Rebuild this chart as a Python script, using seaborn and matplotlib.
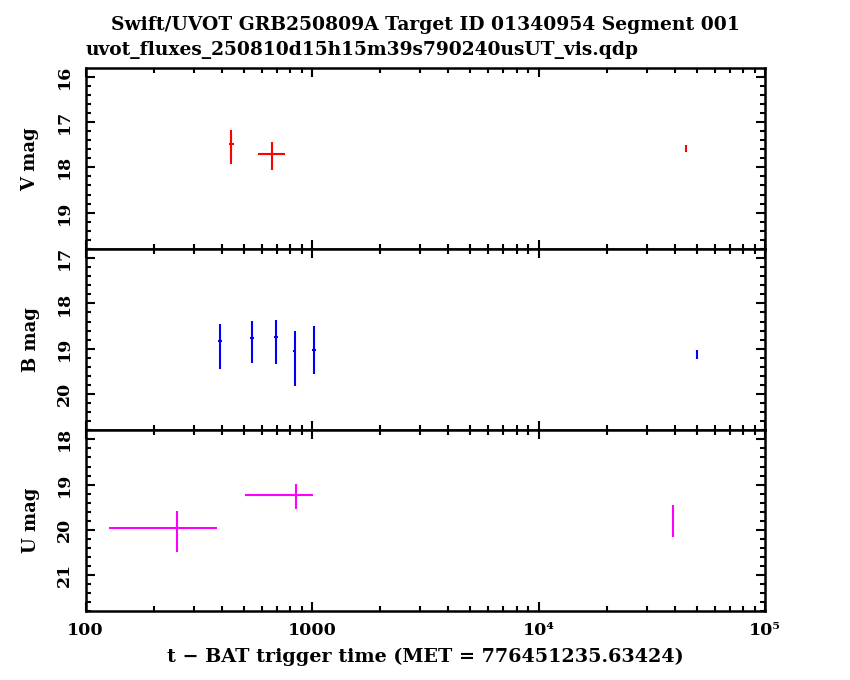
import numpy as np
import pandas as pd
import matplotlib
matplotlib.use("Agg")
import matplotlib.pyplot as plt
import matplotlib.ticker as mticker
import seaborn as sns

# V filter
v_time = [440, 668, 44600]
v_time_lo = [11, 90, 400]
v_time_hi = [11, 90, 400]
v_mag = [17.49, 17.70, 17.60]
v_err_bright = [0.32, 0.27, 0.10]
v_err_faint = [0.44, 0.35, 0.07]

# B filter
b_time = [392, 542, 692, 836, 1021, 50200]
b_time_lo = [8, 10, 12, 15, 20, 500]
b_time_hi = [8, 10, 12, 15, 20, 500]
b_mag = [18.84, 18.77, 18.75, 19.06, 19.02, 19.13]
b_err_bright = [0.39, 0.39, 0.39, 0.46, 0.53, 0.09]
b_err_faint = [0.62, 0.55, 0.60, 0.77, 0.55, 0.11]

# U filter
u_time = [253, 853, 39200]
u_time_lo = [126, 350, 300]
u_time_hi = [127, 157, 300]
u_mag = [19.95, 19.23, 19.80]
u_err_bright = [0.37, 0.24, 0.35]
u_err_faint = [0.55, 0.32, 0.35]

filters = ["V", "B", "U"]
colors = ["#ff0000", "#0000ff", "#ff00ff"]
mag_ranges = [(19.81, 15.81), (20.81, 16.80), (21.80, 17.80)]
y_ticks = [[16, 17, 18, 19], [17, 18, 19, 20], [18, 19, 20, 21]]
x_ticks = [100, 1000, 1e4, 1e5]
x_tick_labels = ["100", "1000", "10\u2074", "10\u2075"]

title = "Swift/UVOT GRB250809A Target ID 01340954 Segment 001"
subtitle = "uvot_fluxes_250810d15h15m39s790240usUT_vis.qdp"
xlabel = "t \u2212 BAT trigger time (MET = 776451235.63424)"

frames = []
for name, t, tlo, thi, m, eb, ef in [
    ("V", v_time, v_time_lo, v_time_hi, v_mag, v_err_bright, v_err_faint),
    ("B", b_time, b_time_lo, b_time_hi, b_mag, b_err_bright, b_err_faint),
    ("U", u_time, u_time_lo, u_time_hi, u_mag, u_err_bright, u_err_faint),
]:
    frames.append(pd.DataFrame({"filter": name, "time": t, "time_lo": tlo,
                                "time_hi": thi, "mag": m, "err_bright": eb,
                                "err_faint": ef}))
data = pd.concat(frames, ignore_index=True)

sns.set_style("ticks")
plt.rcParams["font.family"] = ["DejaVu Serif"]
plt.rcParams["font.weight"] = "bold"
plt.rcParams["text.color"] = "black"
plt.rcParams["axes.labelcolor"] = "black"
plt.rcParams["xtick.color"] = "black"
plt.rcParams["ytick.color"] = "black"

fig, axes = plt.subplots(3, 1, figsize=(8.5, 6.8), dpi=100, sharex=True)
fig.subplots_adjust(left=0.1008, right=0.9, top=0.8996, bottom=0.101, hspace=0)

for ax, name, color, yr, yt in zip(axes, filters, colors, mag_ranges, y_ticks):
    sub = data[data["filter"] == name]
    ax.errorbar(sub["time"], sub["mag"],
                xerr=[sub["time_lo"], sub["time_hi"]],
                yerr=[sub["err_bright"], sub["err_faint"]],
                fmt="none", ecolor=color, elinewidth=1.5, capsize=0)
    ax.set_xscale("log")
    ax.set_xlim(100, 1e5)
    ax.set_ylim(*yr)
    ax.set_yticks(yt)
    ax.yaxis.set_minor_locator(mticker.MultipleLocator(0.2))
    ax.set_ylabel(f"{name} mag", fontsize=13, fontweight="bold", labelpad=12)
    ax.tick_params(which="both", direction="in", top=True, right=True, width=1.5,
                   color="black")
    ax.tick_params(which="major", length=6.5, labelsize=12.5)
    ax.tick_params(axis="y", which="major", pad=9)
    ax.tick_params(which="minor", length=3.3)
    for lbl in ax.get_yticklabels():
        lbl.set_rotation(90)
        lbl.set_va("center")
    for sp in ax.spines.values():
        sp.set_linewidth(1.8)
        sp.set_color("black")

axes[-1].xaxis.set_major_locator(mticker.FixedLocator(x_ticks))
axes[-1].xaxis.set_major_formatter(mticker.FixedFormatter(x_tick_labels))
axes[-1].xaxis.set_minor_locator(mticker.LogLocator(base=10, subs=np.arange(2, 10)))
axes[-1].xaxis.set_minor_formatter(mticker.NullFormatter())
axes[-1].tick_params(axis="x", which="major", pad=8)
axes[-1].set_xlabel(xlabel, fontsize=13.8, fontweight="bold", labelpad=6)

fig.text(0.5, 0.963, title, ha="center", va="center", fontsize=13.5, fontweight="bold")
fig.text(0.1008, 0.927, subtitle, ha="left", va="center", fontsize=13.4, fontweight="bold")

fig.savefig("out.png", dpi=100, facecolor="white")
